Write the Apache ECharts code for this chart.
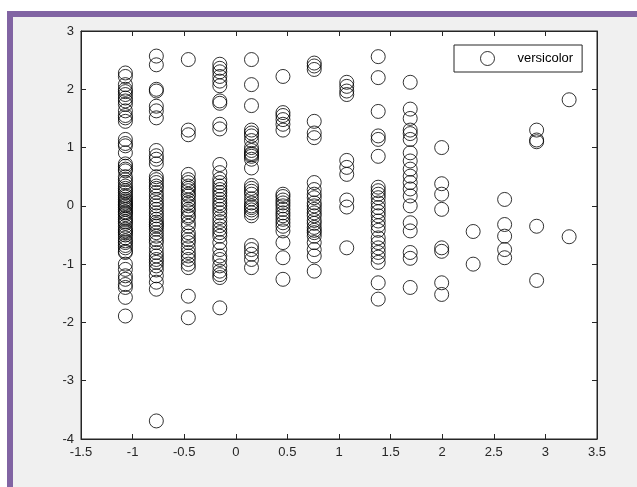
<!DOCTYPE html>
<html>
<head>
<meta charset="utf-8">
<script src="https://cdn.jsdelivr.net/npm/echarts@6/dist/echarts.min.js"></script>
<style>
  html, body { margin: 0; padding: 0; background: #fff; }
  .frame {
    position: absolute; left: 7px; top: 11px; right: 0; bottom: 0;
    background: #f0f0f0;
    border-left: 6px solid #8164a3;
    border-top: 6px solid #8164a3;
  }
  #main { position: absolute; left: 0; top: 0; width: 637px; height: 487px; }
</style>
</head>
<body>
<div class="frame"></div>
<div id="main"></div>
<script>
// x position of each column of points
const colX = [-1.07, -0.77, -0.46, -0.155, 0.152, 0.457, 0.76, 1.075, 1.38, 1.69, 1.995, 2.30, 2.605, 2.915, 3.23]

// y values, one list per column
const col1 = [2.28, 2.22, 2.08, 2.0, 1.96, 1.91, 1.85, 1.80, 1.74, 1.63, 1.55, 1.51, 1.45, 1.14, 1.07, 1.03, 0.91, 0.72, 0.68, 0.63, 0.6, 0.5, 0.45, 0.4, 0.34, 0.3, 0.26, 0.23, 0.18, 0.15, 0.11, 0.08, 0.05, 0.02, 0.0, -0.03, -0.06, -0.1, -0.12, -0.15, -0.2, -0.23, -0.27, -0.3, -0.35, -0.4, -0.43, -0.46, -0.5, -0.55, -0.6, -0.63, -0.68, -0.72, -0.78, -0.8, -1.0, -1.09, -1.2, -1.26, -1.35, -1.4, -1.57, -1.89]
const col2 = [2.57, 2.42, 2.0, 1.97, 1.71, 1.63, 1.51, 0.95, 0.86, 0.8, 0.72, 0.5, 0.45, 0.4, 0.34, 0.3, 0.23, 0.17, 0.11, 0.05, 0.0, -0.06, -0.12, -0.17, -0.23, -0.28, -0.32, -0.35, -0.4, -0.46, -0.52, -0.58, -0.63, -0.72, -0.8, -0.86, -0.92, -0.97, -1.03, -1.1, -1.2, -1.31, -1.43, -3.69]
const col3 = [2.51, 1.3, 1.22, 0.54, 0.45, 0.4, 0.34, 0.3, 0.26, 0.2, 0.17, 0.1, 0.05, 0.0, -0.06, -0.1, -0.17, -0.2, -0.29, -0.35, -0.46, -0.52, -0.58, -0.63, -0.72, -0.8, -0.86, -0.92, -1.0, -1.06, -1.55, -1.92]
const col4 = [2.43, 2.36, 2.3, 2.22, 2.14, 2.06, 1.8, 1.76, 1.4, 1.32, 0.71, 0.57, 0.46, 0.4, 0.34, 0.28, 0.23, 0.17, 0.11, 0.05, 0.0, -0.06, -0.12, -0.2, -0.27, -0.34, -0.4, -0.46, -0.52, -0.63, -0.75, -0.86, -0.92, -1.03, -1.12, -1.18, -1.23, -1.75]
const col5 = [2.51, 2.08, 1.72, 1.3, 1.25, 1.2, 1.12, 1.0, 0.95, 0.9, 0.88, 0.85, 0.8, 0.65, 0.35, 0.3, 0.25, 0.2, 0.12, 0.05, 0.0, -0.03, -0.07, -0.12, -0.17, -0.68, -0.75, -0.83, -0.92, -1.06]
const col6 = [2.22, 1.6, 1.55, 1.48, 1.4, 1.3, 0.2, 0.16, 0.1, 0.05, 0.0, -0.06, -0.12, -0.17, -0.23, -0.29, -0.35, -0.43, -0.63, -0.89, -1.26]
const col7 = [2.45, 2.4, 2.34, 1.45, 1.25, 1.17, 0.4, 0.28, 0.2, 0.14, 0.05, 0.0, -0.06, -0.12, -0.17, -0.25, -0.3, -0.37, -0.42, -0.46, -0.52, -0.63, -0.75, -0.86, -1.12]
const col8 = [2.12, 2.05, 1.97, 1.91, 0.78, 0.66, 0.54, 0.1, -0.02, -0.72]
const col9 = [2.56, 2.2, 1.62, 1.2, 1.14, 0.85, 0.32, 0.26, 0.2, 0.14, 0.05, -0.03, -0.1, -0.17, -0.26, -0.34, -0.42, -0.55, -0.63, -0.72, -0.8, -0.88, -0.97, -1.32, -1.6]
const col10 = [2.12, 1.66, 1.5, 1.3, 1.24, 1.14, 0.91, 0.77, 0.63, 0.51, 0.4, 0.29, 0.17, 0.0, -0.29, -0.43, -0.8, -0.9, -1.4]
const col11 = [1.0, 0.38, 0.2, -0.06, -0.72, -0.78, -1.32, -1.52]
const col12 = [-0.44, -1.0]
const col13 = [0.11, -0.32, -0.52, -0.75, -0.89]
const col14 = [1.3, 1.13, 1.1, -0.35, -1.28]
const col15 = [1.82, -0.53]

const colY = [col1, col2, col3, col4, col5, col6, col7, col8, col9, col10, col11, col12, col13, col14, col15]

const points = []
colY.forEach((ys, i) => {
  ys.forEach((y) => points.push([colX[i], y]))
})

const axisColor = '#262626'
const fontFamily = 'Liberation Sans, Arial, sans-serif'
const labelFont = { color: axisColor, fontSize: 13, fontFamily: fontFamily }

function makeAxis (extra, showLabel) {
  return Object.assign({
    type: 'value',
    axisLine: { show: true, onZero: false, lineStyle: { color: axisColor } },
    axisTick: { show: true, inside: true, length: 5, lineStyle: { color: axisColor } },
    axisLabel: showLabel ? Object.assign({ margin: 7 }, labelFont) : { show: false },
    splitLine: { show: false }
  }, extra)
}

const chart = echarts.init(document.getElementById('main'), null, { renderer: 'canvas' })
chart.setOption({
  animation: false,
  backgroundColor: 'transparent',
  grid: {
    left: 81, top: 31, width: 516, height: 408,
    show: true, backgroundColor: '#fff', borderColor: axisColor, borderWidth: 1
  },
  legend: {
    left: 454, top: 45,
    padding: [6, 9, 6, 26],
    backgroundColor: '#fff',
    borderColor: axisColor, borderWidth: 1, borderRadius: 0,
    itemWidth: 14, itemHeight: 14,
    itemStyle: { color: 'rgba(0,0,0,0)', borderColor: '#000', borderWidth: 1 },
    textStyle: { color: '#000', fontSize: 13, fontFamily: fontFamily, padding: [0, 0, 0, 18] },
    data: ['versicolor']
  },
  xAxis: [
    makeAxis({ min: -1.5, max: 3.5, interval: 0.5 }, true),
    makeAxis({ position: 'top', min: -1.5, max: 3.5, interval: 0.5 }, false)
  ],
  yAxis: [
    makeAxis({ min: -4, max: 3, interval: 1 }, true),
    makeAxis({ position: 'right', min: -4, max: 3, interval: 1 }, false)
  ],
  series: [
    {
      name: 'versicolor',
      type: 'scatter',
      xAxisIndex: 0,
      yAxisIndex: 0,
      symbol: 'circle',
      symbolSize: 14,
      itemStyle: { color: 'rgba(0,0,0,0)', borderColor: '#000', borderWidth: 1 },
      data: points
    }
  ]
})
</script>
</body>
</html>
